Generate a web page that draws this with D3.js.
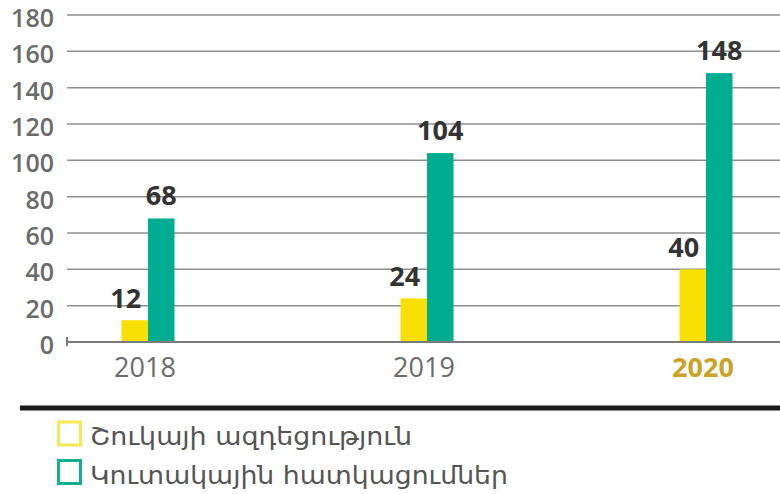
<!DOCTYPE html>
<html><head><meta charset="utf-8">
<script src="https://cdn.jsdelivr.net/npm/d3@7"></script>
<style>body{margin:0;background:#fff}svg{display:block}</style>
</head><body>
<svg id="c" width="780" height="494"></svg>
<script>
const years = ["2018", "2019", "2020"];
const marketImpact = [12, 24, 40];
const accumulated = [68, 104, 148];
const yTicks = [0, 20, 40, 60, 80, 100, 120, 140, 160, 180];
const legendLabels = ["Շուկայի ազդեցություն", "Կուտակային հատկացումներ"];

const colors = ["#f8df06", "#00ad91"];
const svg = d3.select("#c");
const y = d3.scaleLinear().domain([0, 180]).range([342, 15]);
const x = d3.scalePoint().domain(years).range([148, 706]);
const bw = 26.5;
const numFont = "'Open Sans', 'Liberation Sans', sans-serif";

// grid
svg.append("g").selectAll("line").data(yTicks.filter(d => d > 0)).join("line")
  .attr("x1", 67).attr("x2", 780).attr("y1", d => y(d)).attr("y2", d => y(d))
  .attr("stroke", "#8e8e8e").attr("stroke-width", 1.5);

// y labels
svg.append("g").selectAll("text").data(yTicks).join("text")
  .attr("x", 54).attr("y", d => y(d) + 12).attr("text-anchor", "end")
  .attr("font-family", numFont).attr("font-size", 25).attr("font-weight", 600)
  .attr("fill", "#6b6b6b").text(d => d);

// bars
const g = svg.append("g");
years.forEach((yr, i) => {
  const cx = x(yr);
  g.append("rect").attr("x", cx - bw).attr("width", bw)
    .attr("y", y(marketImpact[i])).attr("height", y(0) - y(marketImpact[i])).attr("fill", colors[0]);
  g.append("rect").attr("x", cx).attr("width", bw)
    .attr("y", y(accumulated[i])).attr("height", y(0) - y(accumulated[i])).attr("fill", colors[1]);
  g.append("text").attr("x", cx - bw / 2 - 9).attr("y", y(marketImpact[i]) - 12)
    .attr("text-anchor", "middle").attr("font-family", numFont).attr("font-weight", "bold")
    .attr("font-size", 27).attr("fill", "#333").text(marketImpact[i]);
  g.append("text").attr("x", cx + bw / 2).attr("y", y(accumulated[i]) - 13)
    .attr("text-anchor", "middle").attr("font-family", numFont).attr("font-weight", "bold")
    .attr("font-size", 27).attr("fill", "#333").text(accumulated[i]);
  g.append("text").attr("x", cx - 3).attr("y", 377).attr("text-anchor", "middle")
    .attr("font-family", numFont).attr("font-size", 27)
    .attr("font-weight", i === 2 ? "bold" : "normal")
    .attr("fill", i === 2 ? "#c9a226" : "#6b6b6b").text(yr);
});

// zero axis
svg.append("line").attr("x1", 67).attr("x2", 780).attr("y1", y(0)).attr("y2", y(0))
  .attr("stroke", "#7a7a7a").attr("stroke-width", 2);
svg.append("line").attr("x1", 67).attr("x2", 67).attr("y1", y(0) - 5).attr("y2", y(0) + 4)
  .attr("stroke", "#7a7a7a").attr("stroke-width", 2);

// separator
svg.append("rect").attr("x", 20).attr("y", 405.5).attr("width", 760).attr("height", 5).attr("fill", "#1a1a1a");

// legend
const legendWidths = [322, 418];
const lg = svg.append("g");
legendLabels.forEach((t, i) => {
  const ty = 422 + i * 38.5;
  lg.append("rect").attr("x", 58.5).attr("y", ty).attr("width", 22).attr("height", 23)
    .attr("fill", "none").attr("stroke", i === 0 ? "#f5ea55" : "#14b092").attr("stroke-width", 3);
  lg.append("text").attr("x", 90).attr("y", 445 + i * 39)
    .attr("font-family", "DejaVu Sans").attr("font-size", 24).attr("fill", "#555")
    .attr("textLength", legendWidths[i]).attr("lengthAdjust", "spacingAndGlyphs").text(t);
});
</script>
</body></html>
